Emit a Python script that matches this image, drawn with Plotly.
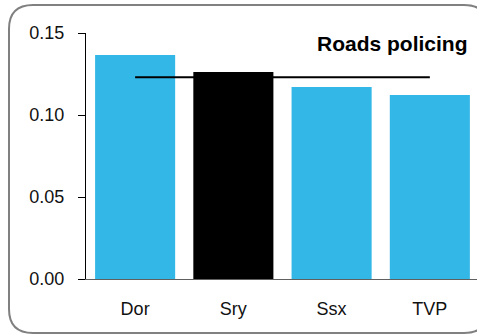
import plotly.graph_objects as go

categories = ["Dor", "Sry", "Ssx", "TVP"]
values = [0.1366, 0.1262, 0.1171, 0.1122]
average = [0.123, 0.123, 0.123, 0.123]
bar_colors = ["#33B7E7", "#000000", "#33B7E7", "#33B7E7"]
y_ticks = [0.0, 0.05, 0.10, 0.15]
title_text = "Roads policing"

W, H = 477, 334
L, R, T, B = 86, 0, 33, 55
pw, ph = W - L - R, H - T - B


def px(x):
    return (x - L) / pw


def py(y):
    return (H - B - y) / ph


def rounded_rect(x0, y0, x1, y1, r):
    pts = [
        f"M {px(x0 + r)},{py(y0)}",
        f"L {px(x1 - r)},{py(y0)}",
        f"Q {px(x1)},{py(y0)} {px(x1)},{py(y0 + r)}",
        f"L {px(x1)},{py(y1 - r)}",
        f"Q {px(x1)},{py(y1)} {px(x1 - r)},{py(y1)}",
        f"L {px(x0 + r)},{py(y1)}",
        f"Q {px(x0)},{py(y1)} {px(x0)},{py(y1 - r)}",
        f"L {px(x0)},{py(y0 + r)}",
        f"Q {px(x0)},{py(y0)} {px(x0 + r)},{py(y0)}",
        "Z",
    ]
    return " ".join(pts)


fig = go.Figure()
fig.add_trace(go.Bar(x=categories, y=values, marker=dict(color=bar_colors, line=dict(width=0)),
                     showlegend=False, hoverinfo="skip"))
fig.add_trace(go.Scatter(x=categories, y=average, mode="lines",
                         line=dict(color="black", width=2), showlegend=False, hoverinfo="skip"))

fig.update_layout(
    width=W, height=H,
    margin=dict(l=L, r=R, t=T, b=B, pad=0),
    paper_bgcolor="white", plot_bgcolor="white",
    bargap=0.185,
    font=dict(family="Liberation Sans, Arial, sans-serif", size=18, color="#111111"),
    xaxis=dict(range=[-0.5, 3.48], showline=True, linecolor="#606060", linewidth=1,
               ticks="", showgrid=False, zeroline=False, ticklabelstandoff=13,
               tickfont=dict(size=18)),
    yaxis=dict(range=[0, 0.15], tickvals=y_ticks, tickformat=".2f", ticks="outside",
               ticklen=7, tickcolor="black", tickwidth=1, showline=True, linecolor="black",
               linewidth=1, showgrid=False, zeroline=False, ticklabelstandoff=10,
               tickfont=dict(size=18)),
    shapes=[dict(type="path", xref="paper", yref="paper",
                 path=rounded_rect(9, 5, 488, 333, 24),
                 line=dict(color="#808080", width=2), fillcolor="rgba(0,0,0,0)", layer="above")],
    annotations=[dict(text="<b>" + title_text + "</b>", xref="paper", yref="paper",
                      x=px(470), y=py(44), xanchor="right", yanchor="middle",
                      showarrow=False, font=dict(size=21, color="black"))],
)

fig.write_html("out.html", config={"displayModeBar": False, "staticPlot": True},
               post_script="document.body.style.margin='0';document.body.style.overflow='hidden';")
